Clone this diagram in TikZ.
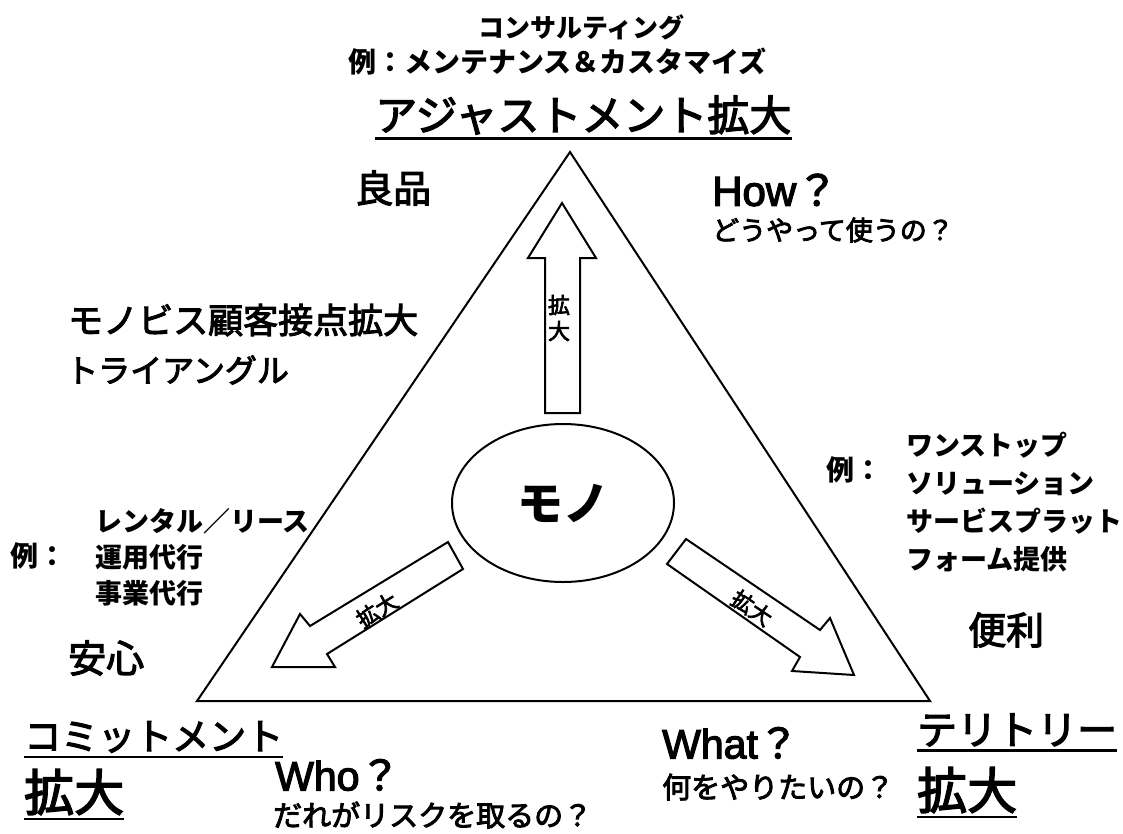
\documentclass[tikz,border=0pt]{standalone}
\usepackage{fontspec}
\usetikzlibrary{shapes.geometric}
\setmainfont{Liberation Sans}
\newfontfamily\lat{Liberation Sans}[FakeBold=3]
\newfontfamily\jp{Noto Sans CJK JP}[FakeBold=3]
\newfontfamily\jpo{Noto Sans CJK JP}
\newcommand\myfs[1]{\fontsize{#1}{#1}\selectfont}
\begin{document}
\begin{tikzpicture}[x=1pt,y=-1pt,
  t/.style={inner sep=0pt, anchor=west},
  shape line/.style={line width=2pt, line join=miter},
  uline/.style={line width=2.5pt},
  arrowbox/.style={line width=2pt, fill=white, line join=miter}]
\useasboundingbox[fill=white] (0,0) rectangle (1123,833);

% triangle
\coordinate (A) at (570,152);
\coordinate (B) at (197,701);
\coordinate (C) at (930,701);
\draw[shape line] (A) -- (B) -- (C) -- cycle;

% ellipse
\node[draw, line width=2pt, ellipse, minimum width=222pt, minimum height=158pt, inner sep=0pt] (mono) at (563,503) {};
\node[font=\jpo\bfseries\myfs{46}, inner sep=0pt] (monot) at (mono.center) {モノ};

% up arrow
\draw[arrowbox] (545,413) -- (545,258) -- (528,258) -- (562,203) -- (596,258) -- (580,258) -- (580,413) -- cycle;
\node[font=\jp\fontsize{22}{26}\selectfont, align=center, inner sep=0pt] (upl) at (559,318) {拡\\大};

% left arrow
\draw[arrowbox] (448,542) -- (310,626) -- (300,614) -- (272,667) -- (335,667) -- (327,654) -- (463,569) -- cycle;
\node[font=\jp\myfs{22}, inner sep=0pt, rotate=32] (leftl) at (377,610) {拡大};

% right arrow
\draw[arrowbox] (686,539) -- (820,630) -- (830,618) -- (854,675) -- (792,671) -- (800,657) -- (667,564) -- cycle;
\node[font=\jp\myfs{22}, inner sep=0pt, rotate=-34] (rightl) at (752,608) {拡大};

% top texts
\node[t, font=\jpo\bfseries\myfs{26}] (consult) at (478,27) {コンサルティング};
\node[t, font=\jpo\bfseries\myfs{28}] (ex1) at (348,62) {例：メンテナンス＆カスタマイズ};
\node[t, font=\jp\myfs{42}] (adj) at (375,115) {アジャストメント拡大};
\draw[uline] ([yshift=-4pt]adj.south west) -- ([yshift=-4pt]adj.south east);

\node[t, font=\jp\myfs{38}] (ryo) at (355,188) {良品};
\node[t, font=\lat\myfs{42}] (how) at (712,190) {How{\jp ？}};
\node[t, font=\jp\myfs{27}] (howj) at (712,230) {どうやって使うの？};

\node[t, font=\jp\myfs{35}] (tri1) at (68,320) {モノビス顧客接点拡大};
\node[t, font=\jp\myfs{32}] (tri2) at (66,370) {トライアングル};

% right examples
\node[t, font=\jpo\bfseries\myfs{28}] (exr) at (826,470) {例：};
\node[inner sep=0pt, anchor=north west, align=left, font=\jpo\bfseries\fontsize{27}{38}\selectfont] (exrl) at (906,432)
  {ワンストップ\\ソリューション\\サービスプラット\\フォーム提供};
\node[t, font=\jp\myfs{38}] (benri) at (968,630) {便利};

% left examples
\node[inner sep=0pt, anchor=north west, align=left, font=\jpo\bfseries\fontsize{27}{36}\selectfont] (exll) at (95,508)
  {レンタル／リース\\運用代行\\事業代行};
\node[t, font=\jpo\bfseries\myfs{28}] (exl) at (10,556) {例：};
\node[t, font=\jp\myfs{38}] (anshin) at (68,658) {安心};

% bottom left
\node[t, font=\jp\myfs{37}] (commit) at (24,737) {コミットメント};
\draw[uline] ([yshift=-4pt]commit.south west) -- ([yshift=-4pt]commit.south east);
\node[t, font=\jp\myfs{50}] (commit2) at (24,792) {拡大};
\draw[uline] ([yshift=-4pt]commit2.south west) -- ([yshift=-4pt]commit2.south east);

\node[t, font=\lat\myfs{41}] (who) at (275,775) {Who{\jp ？}};
\node[t, font=\jp\myfs{29}] (whoj) at (273,815) {だれがリスクを取るの？};

% bottom right
\node[t, font=\lat\myfs{41}] (what) at (662,743) {What{\jp ？}};
\node[t, font=\jp\myfs{29}] (whatj) at (662,787) {何をやりたいの？};
\node[t, font=\jp\myfs{40}] (terr) at (917,730) {テリトリー};
\draw[uline] ([yshift=-4pt]terr.south west) -- ([yshift=-4pt]terr.south east);
\node[t, font=\jp\myfs{50}] (terr2) at (917,790) {拡大};
\draw[uline] ([yshift=-4pt]terr2.south west) -- ([yshift=-4pt]terr2.south east);
\end{tikzpicture}
\end{document}
